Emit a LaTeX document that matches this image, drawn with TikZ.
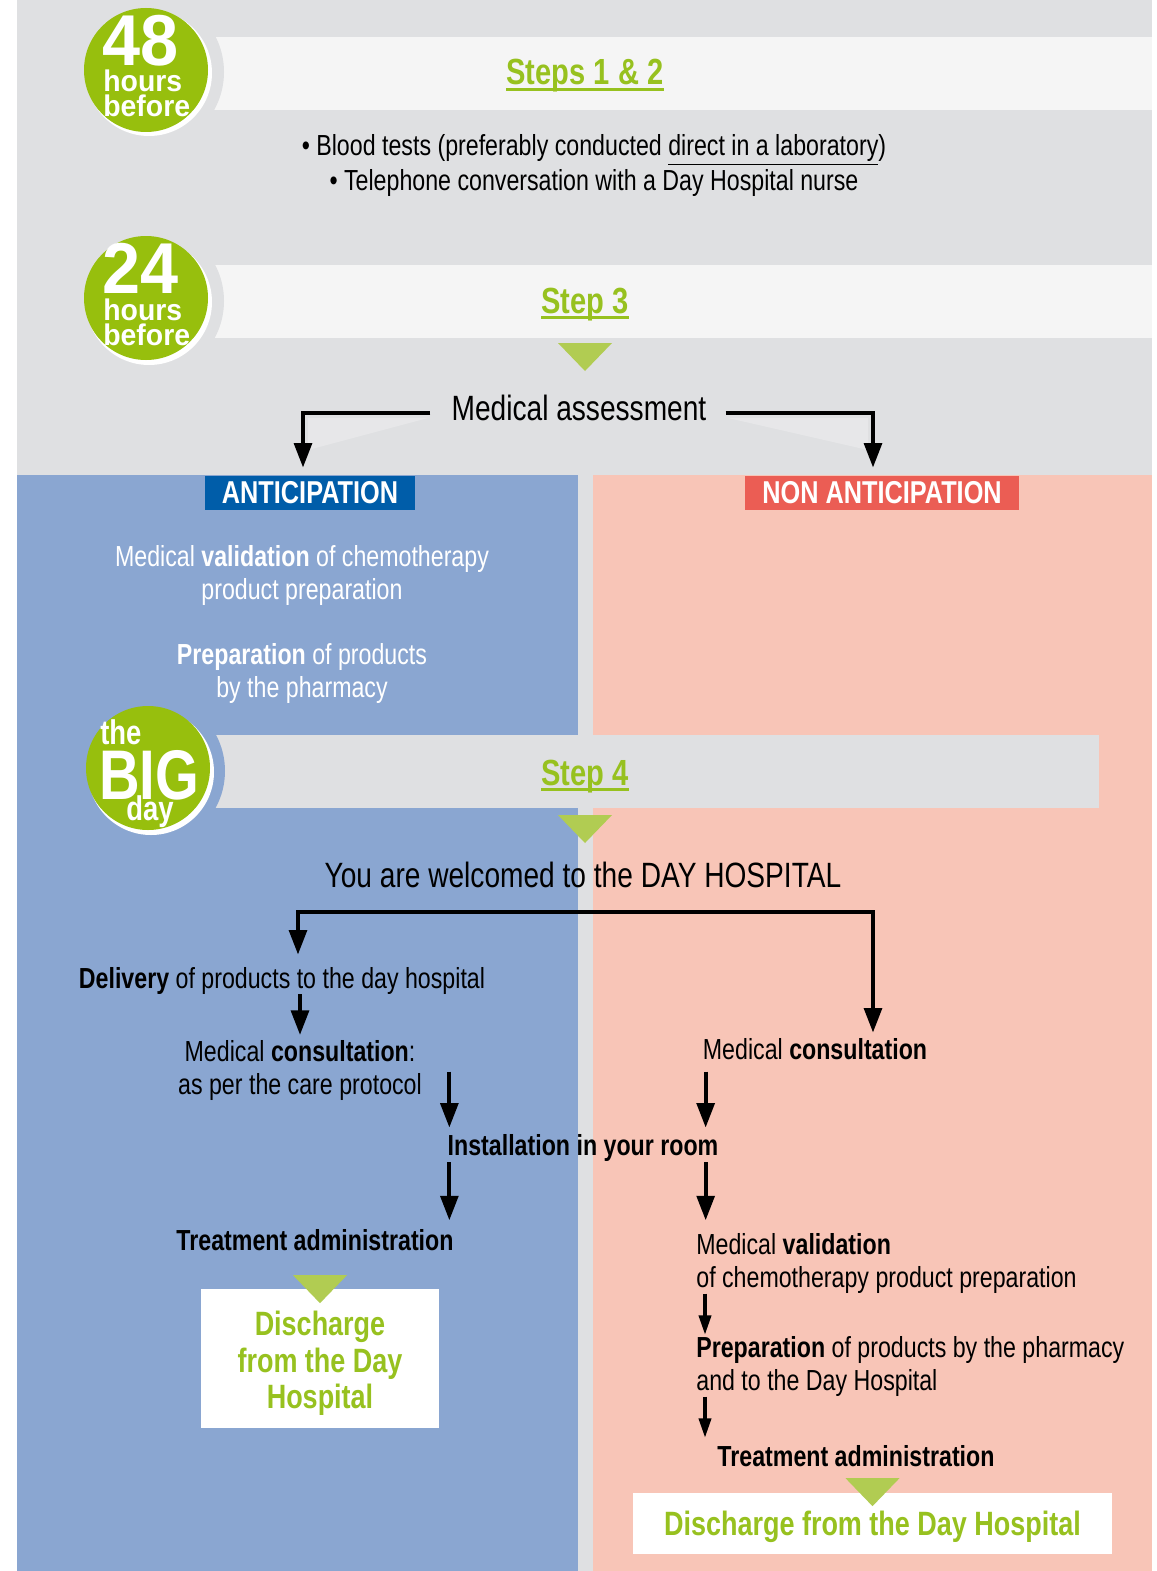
\documentclass[tikz,border=0pt]{standalone}
\usepackage{fontspec}
\setmainfont{Liberation Sans}[FakeStretch=0.8]
\newfontfamily\badgefont{Liberation Sans}[FakeStretch=0.95]
\usetikzlibrary{arrows.meta,positioning}

\definecolor{bggray}{HTML}{DFE0E2}
\definecolor{bandgray}{HTML}{F5F5F5}
\definecolor{badgegreen}{HTML}{97BF0D}
\definecolor{labelgreen}{HTML}{97C11F}
\definecolor{trigreen}{HTML}{B1CC52}
\definecolor{antiblue}{HTML}{8AA6D1}
\definecolor{nonpink}{HTML}{F8C5B7}
\definecolor{tagblue}{HTML}{005DA9}
\definecolor{tagred}{HTML}{EB5D54}

\newcommand{\greentri}[1]{\fill[trigreen] (#1) ++(-27,0) -- ++(54,0) -- ++(-27,28) -- cycle;}

\begin{document}
\begin{tikzpicture}[x=0.02cm, y=-0.02cm,
	txt/.style={inner sep=0pt, font=\fontsize{16.5}{18.7}\selectfont},
	txtb/.style={inner sep=0pt, font=\bfseries\fontsize{16.5}{18.7}\selectfont},
	bigtxt/.style={inner sep=0pt, font=\fontsize{20}{24}\selectfont},
	steplabel/.style={inner sep=0pt, text=labelgreen, font=\bfseries\fontsize{20.7}{24}\selectfont},
	stepline/.style={labelgreen, line width=1.6pt},
	tagbox/.style={text=white, font=\bfseries\fontsize{18}{20}\selectfont, minimum height=0.68cm, inner sep=0pt},
	dischargebox/.style={fill=white, text=labelgreen, align=center, inner sep=0pt,
		font=\bfseries\fontsize{19.2}{21}\selectfont},
	badgetxt/.style={inner sep=0pt, text=white, anchor=base west, font=\badgefont\bfseries\fontsize{17}{17}\selectfont},
	arrow/.style={line width=2.4pt, -{Triangle[width=10pt,length=14pt]}},
	smallarrow/.style={line width=1.8pt, -{Triangle[width=7pt,length=11pt]}}]

	\useasboundingbox (0,0) rectangle (1156,1571);

	% backgrounds
	\fill[white] (0,0) rectangle (1156,1571);
	\fill[bggray] (17,0) rectangle (1152,1571);
	\fill[antiblue] (17,475) rectangle (578,1571);
	\fill[nonpink] (593,475) rectangle (1152,1571);

	% step bands, cut round the badges
	\fill[bandgray] (190,37) rectangle (1152,110);
	\fill[bggray] (146,72) circle[radius=78*0.02cm];
	\fill[bandgray] (190,265) rectangle (1152,338);
	\fill[bggray] (146,301) circle[radius=78*0.02cm];
	\fill[bggray] (190,735) rectangle (1099,808);
	\fill[antiblue] (148,771) circle[radius=77*0.02cm];

	% badges
	\fill[white] (149,73) circle[radius=63*0.02cm];
	\fill[badgegreen] (146,70) circle[radius=62*0.02cm];
	\fill[white] (149,302) circle[radius=63*0.02cm];
	\fill[badgegreen] (146,298) circle[radius=62*0.02cm];
	\fill[white] (151,772) circle[radius=63*0.02cm];
	\fill[badgegreen] (148,768) circle[radius=62*0.02cm];

	\node[badgetxt, font=\badgefont\bfseries\fontsize{41}{41}\selectfont] (n48) at (102,66) {48};
	\node[badgetxt] (h48) at (103,92) {hours};
	\node[badgetxt] (b48) at (103,117) {before};
	\node[badgetxt, font=\badgefont\bfseries\fontsize{41}{41}\selectfont] (n24) at (102,293) {24};
	\node[badgetxt] (h24) at (103,320) {hours};
	\node[badgetxt] (b24) at (103,345) {before};
	\node[badgetxt, font=\bfseries\fontsize{19.5}{20}\selectfont] (the) at (100,744) {the};
	\node[badgetxt, font=\bfseries\fontsize{40}{40}\selectfont] (bigday) at (99,799) {BIG};
	\node[badgetxt, font=\bfseries\fontsize{19.5}{20}\selectfont] (day) at (126,820) {day};

	% 48 hours before
	\node[steplabel, anchor=base] (step12) at (585,85) {Steps 1 \& 2};
	\draw[stepline] ([yshift=-2.6pt]step12.base west) -- ([yshift=-2.6pt]step12.base east);
	\node[txt, anchor=base] (blood) at (594,156) {• Blood tests (preferably conducted \underline{direct in a laboratory})};
	\node[txt, anchor=base] (phone) at (594,191) {• Telephone conversation with a Day Hospital nurse};

	% 24 hours before
	\node[steplabel, anchor=base] (step3) at (585,313) {Step 3};
	\draw[stepline] ([yshift=-2.6pt]step3.base west) -- ([yshift=-2.6pt]step3.base east);
	\greentri{585,343}
	\node[bigtxt, anchor=base] (assess) at (579,420) {Medical assessment};
	\fill[white, opacity=0.25] (428,418) -- (308,418) -- (308,450) -- cycle;
	\fill[white, opacity=0.25] (728,418) -- (868,418) -- (868,450) -- cycle;
	\node[tagbox, fill=tagblue, minimum width=4.2cm] (antic) at (310,493) {ANTICIPATION};
	\node[tagbox, fill=tagred, minimum width=5.48cm] (nonantic) at (882,493) {NON ANTICIPATION};
	\draw[arrow] ([xshift=-0.42cm,yshift=0.14cm]assess.base west) -| ([xshift=-0.14cm,yshift=0.16cm]antic.north);
	\draw[arrow] ([xshift=0.38cm,yshift=0.14cm]assess.base east) -| ([xshift=-0.18cm,yshift=0.16cm]nonantic.north);

	\node[txt, text=white, align=center, anchor=north] (valA) at (302,545)
		{Medical \textbf{validation} of chemotherapy\\product preparation};
	\node[txt, text=white, align=center, anchor=north] (prepA) at (302,643)
		{\textbf{Preparation} of products\\by the pharmacy};

	% the big day
	\node[steplabel, anchor=base] (step4) at (585,785) {Step 4};
	\draw[stepline] ([yshift=-2.6pt]step4.base west) -- ([yshift=-2.6pt]step4.base east);
	\greentri{585,815}
	\node[bigtxt, anchor=base] (welcome) at (583,887) {You are welcomed to the DAY HOSPITAL};
	\coordinate (split) at ([yshift=-0.5cm]welcome.base);

	\node[txt, anchor=base] (deliv) at (282,988) {\textbf{Delivery} of products to the day hospital};
	\node[txt, align=center, anchor=north] (consL) at (300,1040)
		{Medical \textbf{consultation}:\\as per the care protocol};
	\node[txt, anchor=base] (consR) at (815,1059) {Medical \textbf{consultation}};
	\draw[arrow] (split) -| ([xshift=0.32cm,yshift=0.24cm]deliv.north);
	\draw[arrow] (split) -| ([xshift=1.16cm,yshift=0.1cm]consR.north);
	\draw[arrow] (deliv.south -| consL.north) -- ([yshift=0.1cm]consL.north);

	\node[txtb, anchor=base] (install) at (583,1155) {Installation in your room};
	\draw[arrow] ([xshift=0.04cm,yshift=1.24cm]install.north west) -- ++(0,56);
	\draw[arrow] ([xshift=-0.26cm,yshift=1.24cm]install.north east) -- ++(0,56);

	% anticipation branch
	\node[txtb, anchor=base] (treatL) at (315,1250) {Treatment administration};
	\draw[arrow] ([xshift=0.04cm,yshift=-0.02cm]install.south west) -- ++(0,58);
	\node[dischargebox, minimum width=4.76cm, minimum height=2.78cm] (dischL) at (320,1358)
		{\rule{0pt}{20pt}Discharge\\from the Day\\Hospital};
	\greentri{[yshift=0.26cm]dischL.north}

	% non anticipation branch
	\node[txt, align=left, anchor=north west] (valR) at (696,1233)
		{Medical \textbf{validation}\\of chemotherapy product preparation};
	\draw[arrow] ([xshift=-0.26cm,yshift=-0.02cm]install.south east) -- ++(0,58);
	\node[txt, align=left, anchor=north west] (prepR) at (696,1336)
		{\textbf{Preparation} of products by the pharmacy\\and to the Day Hospital};
	\draw[smallarrow] ([xshift=0.18cm]valR.south west) -- ++(0,41);
	\node[txtb, anchor=base] (treatR) at (856,1466) {Treatment administration};
	\draw[smallarrow] ([xshift=0.18cm]prepR.south west) -- ++(0,41);
	\node[dischargebox, minimum width=9.58cm, minimum height=1.22cm, text height=15pt, text depth=1pt] (dischR) at (872.5,1523)
		{Discharge from the Day Hospital};
	\greentri{[yshift=0.28cm]dischR.north}

\end{tikzpicture}
\end{document}
